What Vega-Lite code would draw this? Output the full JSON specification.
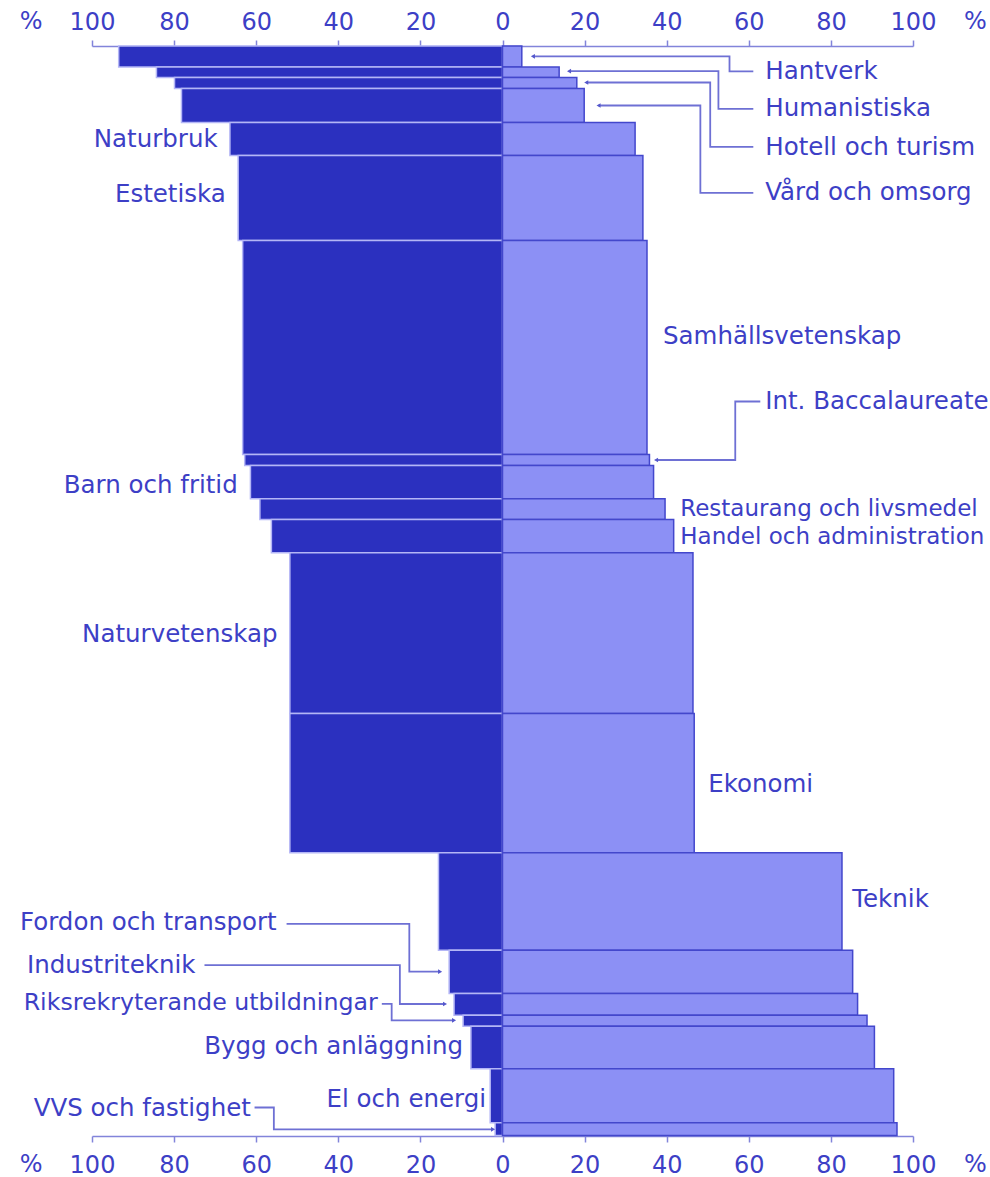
{
  "$schema": "https://vega.github.io/schema/vega-lite/v6.json",
  "width": 821,
  "height": 1090,
  "autosize": {"type": "none"},
  "padding": {"left": 92, "top": 46, "right": 77, "bottom": 41},
  "background": "white",
  "config": {"view": {"stroke": null}, "font": "DejaVu Sans"},
  "datasets": {
    "programs": [
      {"order": 1, "program": "Hantverk", "students": 6300, "women": 93.5, "men": 4.7},
      {"order": 2, "program": "Humanistiska", "students": 3150, "women": 84.3, "men": 13.8},
      {"order": 3, "program": "Hotell och turism", "students": 3300, "women": 79.9, "men": 18.1},
      {"order": 4, "program": "Vård och omsorg", "students": 10200, "women": 78.2, "men": 19.9},
      {"order": 5, "program": "Naturbruk", "students": 9900, "women": 66.4, "men": 32.3},
      {"order": 6, "program": "Estetiska", "students": 25500, "women": 64.4, "men": 34.2},
      {"order": 7, "program": "Samhällsvetenskap", "students": 64200, "women": 63.3, "men": 35.2},
      {"order": 8, "program": "Int. Baccalaureate", "students": 3300, "women": 62.8, "men": 35.8},
      {"order": 9, "program": "Barn och fritid", "students": 10000, "women": 61.4, "men": 36.8},
      {"order": 10, "program": "Restaurang och livsmedel", "students": 6200, "women": 59.1, "men": 39.6},
      {"order": 11, "program": "Handel och administration", "students": 10000, "women": 56.3, "men": 41.7},
      {"order": 12, "program": "Naturvetenskap", "students": 48200, "women": 51.8, "men": 46.4},
      {"order": 13, "program": "Ekonomi", "students": 41800, "women": 51.8, "men": 46.7},
      {"order": 14, "program": "Teknik", "students": 29200, "women": 15.6, "men": 82.7},
      {"order": 15, "program": "Fordon och transport", "students": 13000, "women": 13.0, "men": 85.3},
      {"order": 16, "program": "Industriteknik", "students": 6500, "women": 11.8, "men": 86.5},
      {"order": 17, "program": "Riksrekryterande utbildningar", "students": 3300, "women": 9.6, "men": 88.8},
      {"order": 18, "program": "Bygg och anläggning", "students": 12800, "women": 7.7, "men": 90.6},
      {"order": 19, "program": "El och energi", "students": 16200, "women": 3.0, "men": 95.3},
      {"order": 20, "program": "VVS och fastighet", "students": 3800, "women": 1.8, "men": 96.1}
    ],
    "leaders": [
      {"path": "Hantverk", "step": 0, "x": 7.4, "y": 3100},
      {"path": "Hantverk", "step": 1, "x": 55.3, "y": 3100},
      {"path": "Hantverk", "step": 2, "x": 55.3, "y": 7600},
      {"path": "Hantverk", "step": 3, "x": 61.1, "y": 7600},
      {"path": "Humanistiska", "step": 0, "x": 16.2, "y": 7560},
      {"path": "Humanistiska", "step": 1, "x": 52.6, "y": 7560},
      {"path": "Humanistiska", "step": 2, "x": 52.6, "y": 18840},
      {"path": "Humanistiska", "step": 3, "x": 61.1, "y": 18840},
      {"path": "Hotell", "step": 0, "x": 20.4, "y": 10950},
      {"path": "Hotell", "step": 1, "x": 50.6, "y": 10950},
      {"path": "Hotell", "step": 2, "x": 50.6, "y": 30240},
      {"path": "Hotell", "step": 3, "x": 61.1, "y": 30240},
      {"path": "Vard", "step": 0, "x": 23.4, "y": 17850},
      {"path": "Vard", "step": 1, "x": 48.2, "y": 17850},
      {"path": "Vard", "step": 2, "x": 48.2, "y": 44040},
      {"path": "Vard", "step": 3, "x": 61.1, "y": 44040},
      {"path": "IB", "step": 0, "x": 37.4, "y": 124200},
      {"path": "IB", "step": 1, "x": 56.7, "y": 124200},
      {"path": "IB", "step": 2, "x": 56.7, "y": 106650},
      {"path": "IB", "step": 3, "x": 62.8, "y": 106650},
      {"path": "Fordon", "step": 0, "x": -15.2, "y": 277700},
      {"path": "Fordon", "step": 1, "x": -22.7, "y": 277700},
      {"path": "Fordon", "step": 2, "x": -22.7, "y": 263340},
      {"path": "Fordon", "step": 3, "x": -52.6, "y": 263340},
      {"path": "Industri", "step": 0, "x": -14.0, "y": 287400},
      {"path": "Industri", "step": 1, "x": -25.0, "y": 287400},
      {"path": "Industri", "step": 2, "x": -25.0, "y": 275760},
      {"path": "Industri", "step": 3, "x": -72.6, "y": 275760},
      {"path": "Riks", "step": 0, "x": -11.8, "y": 292300},
      {"path": "Riks", "step": 1, "x": -27.0, "y": 292300},
      {"path": "Riks", "step": 2, "x": -27.0, "y": 287340},
      {"path": "Riks", "step": 3, "x": -29.4, "y": 287340},
      {"path": "VVS", "step": 0, "x": -2.3, "y": 325000},
      {"path": "VVS", "step": 1, "x": -55.7, "y": 325000},
      {"path": "VVS", "step": 2, "x": -55.7, "y": 318450},
      {"path": "VVS", "step": 3, "x": -60.4, "y": 318450}
    ],
    "labels": [
      {"label": "Hantverk", "x": 64.0, "y": 7700},
      {"label": "Humanistiska", "x": 64.0, "y": 18950},
      {"label": "Hotell och turism", "x": 64.0, "y": 30450},
      {"label": "Vård och omsorg", "x": 64.0, "y": 44000},
      {"label": "Naturbruk", "x": -69.4, "y": 28050},
      {"label": "Estetiska", "x": -67.4, "y": 44700},
      {"label": "Samhällsvetenskap", "x": 39.1, "y": 87150},
      {"label": "Int. Baccalaureate", "x": 64.0, "y": 106700},
      {"label": "Barn och fritid", "x": -64.5, "y": 132000},
      {"label": "Restaurang och livsmedel", "x": 43.3, "y": 138750},
      {"label": "Handel och administration", "x": 43.3, "y": 147150},
      {"label": "Naturvetenskap", "x": -54.8, "y": 176550},
      {"label": "Ekonomi", "x": 50.1, "y": 221550},
      {"label": "Teknik", "x": 85.2, "y": 256050},
      {"label": "Fordon och transport", "x": -55.0, "y": 263100},
      {"label": "Industriteknik", "x": -74.8, "y": 275900},
      {"label": "Riksrekryterande utbildningar", "x": -30.4, "y": 287000},
      {"label": "Bygg och anläggning", "x": -9.6, "y": 300150},
      {"label": "El och energi", "x": -4.0, "y": 316050},
      {"label": "VVS och fastighet", "x": -61.3, "y": 318900}
    ],
    "units": [
      {"x": -114.8, "y": -7350},
      {"x": 115.2, "y": -7350},
      {"x": -114.8, "y": 335700},
      {"x": 115.2, "y": 335700}
    ]
  },
  "layer": [
    {
      "data": {"name": "programs"},
      "transform": [
        {"stack": "students", "groupby": [], "sort": [{"field": "order"}], "as": ["y0", "y1"]}
      ],
      "mark": {"type": "rect", "color": "#2b30bf", "stroke": "#b4b6f6", "strokeWidth": 1.5},
      "encoding": {
        "x": {
          "field": "women", "type": "quantitative",
          "scale": {"domain": [-100, 100], "reverse": true, "nice": false, "zero": false},
          "axis": {
            "orient": "top", "values": [-100, -80, -60, -40, -20, 0, 20, 40, 60, 80, 100],
            "labelExpr": "abs(datum.value)", "title": null, "grid": false,
            "labelFont": "DejaVu Sans", "labelFontSize": 24, "labelColor": "#3d3fc6",
            "labelPadding": 6, "labelFlush": false, "labelOverlap": false, "labelBound": false,
            "domainColor": "#8284da", "domainWidth": 1.5, "tickColor": "#8284da", "tickWidth": 1.5, "tickSize": 6
          }
        },
        "x2": {"datum": 0},
        "y": {"field": "y0", "type": "quantitative", "scale": {"domain": [0, 327000], "reverse": true, "nice": false, "zero": false}, "axis": null},
        "y2": {"field": "y1"}
      }
    },
    {
      "data": {"name": "programs"},
      "transform": [
        {"stack": "students", "groupby": [], "sort": [{"field": "order"}], "as": ["y0", "y1"]}
      ],
      "mark": {"type": "rect", "color": "#8c90f5", "stroke": "#4347cc", "strokeWidth": 1.5},
      "encoding": {
        "x": {
          "field": "men", "type": "quantitative",
          "scale": {"domain": [-100, 100], "nice": false, "zero": false},
          "axis": {
            "orient": "bottom", "values": [-100, -80, -60, -40, -20, 0, 20, 40, 60, 80, 100],
            "labelExpr": "abs(datum.value)", "title": null, "grid": false,
            "labelFont": "DejaVu Sans", "labelFontSize": 24, "labelColor": "#3d3fc6",
            "labelPadding": 11, "labelFlush": false, "labelOverlap": false, "labelBound": false,
            "domainColor": "#8284da", "domainWidth": 1.5, "tickColor": "#8284da", "tickWidth": 1.5, "tickSize": 6
          }
        },
        "x2": {"datum": 0},
        "y": {"field": "y0", "type": "quantitative", "scale": {"domain": [0, 327000], "reverse": true, "nice": false, "zero": false}, "axis": null},
        "y2": {"field": "y1"}
      }
    },
    {
      "layer": [
        {
          "data": {"name": "leaders"},
          "mark": {"type": "line", "color": "#6e70d4", "strokeWidth": 1.8, "interpolate": "linear"},
          "encoding": {
            "x": {"field": "x", "type": "quantitative", "scale": {"domain": [-100, 100], "nice": false, "zero": false}, "axis": null},
            "y": {"field": "y", "type": "quantitative", "scale": {"domain": [0, 327000], "reverse": true, "nice": false, "zero": false}, "axis": null},
            "detail": {"field": "path"},
            "order": {"field": "step"}
          }
        },
        {
          "data": {"name": "leaders"},
          "transform": [{"filter": "datum.step == 0"}],
          "mark": {"type": "point", "filled": true, "color": "#5558cc", "opacity": 1, "size": 22},
          "encoding": {
            "x": {"field": "x", "type": "quantitative", "scale": {"domain": [-100, 100], "nice": false, "zero": false}, "axis": null},
            "y": {"field": "y", "type": "quantitative", "scale": {"domain": [0, 327000], "reverse": true, "nice": false, "zero": false}, "axis": null},
            "shape": {"condition": {"test": "datum.x < 0", "value": "triangle-right"}, "value": "triangle-left"}
          }
        },
        {
          "data": {"name": "labels"},
          "transform": [{"filter": "datum.x >= 0"}],
          "mark": {"type": "text", "align": "left", "baseline": "middle", "font": "DejaVu Sans", "color": "#3d3fc6"},
          "encoding": {
            "x": {"field": "x", "type": "quantitative", "scale": {"domain": [-100, 100], "nice": false, "zero": false}, "axis": null},
            "y": {"field": "y", "type": "quantitative", "scale": {"domain": [0, 327000], "reverse": true, "nice": false, "zero": false}, "axis": null},
            "text": {"field": "label"},
            "size": {"condition": [{"test": "length(datum.label) > 26", "value": 23.7}, {"test": "length(datum.label) > 22", "value": 23}], "value": 24.5}
          }
        },
        {
          "data": {"name": "labels"},
          "transform": [{"filter": "datum.x < 0"}],
          "mark": {"type": "text", "align": "right", "baseline": "middle", "font": "DejaVu Sans", "color": "#3d3fc6"},
          "encoding": {
            "x": {"field": "x", "type": "quantitative", "scale": {"domain": [-100, 100], "nice": false, "zero": false}, "axis": null},
            "y": {"field": "y", "type": "quantitative", "scale": {"domain": [0, 327000], "reverse": true, "nice": false, "zero": false}, "axis": null},
            "text": {"field": "label"},
            "size": {"condition": [{"test": "length(datum.label) > 26", "value": 23.7}, {"test": "length(datum.label) > 22", "value": 23}], "value": 24.5}
          }
        },
        {
          "data": {"name": "units"},
          "mark": {"type": "text", "text": "%", "align": "center", "baseline": "middle", "font": "DejaVu Sans", "fontSize": 24, "color": "#3d3fc6"},
          "encoding": {
            "x": {"field": "x", "type": "quantitative", "scale": {"domain": [-100, 100], "nice": false, "zero": false}, "axis": null},
            "y": {"field": "y", "type": "quantitative", "scale": {"domain": [0, 327000], "reverse": true, "nice": false, "zero": false}, "axis": null}
          }
        }
      ]
    }
  ],
  "resolve": {"scale": {"x": "independent"}}
}
